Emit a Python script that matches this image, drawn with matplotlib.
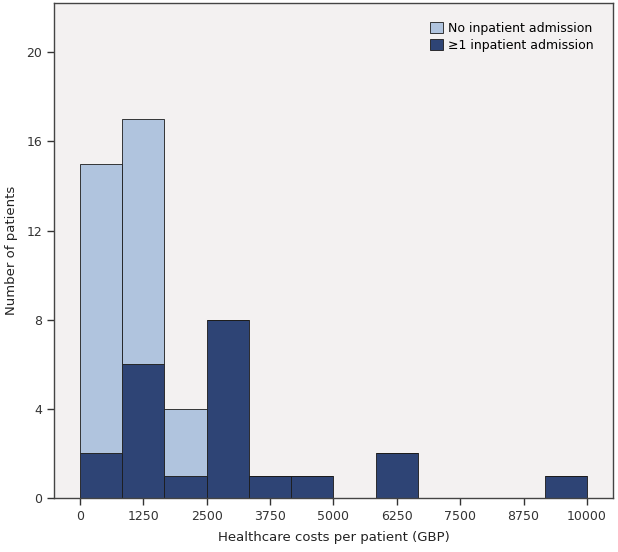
import numpy as np
import matplotlib.pyplot as plt

# histogram counts, 12 bins from 0 to 10000 GBP
bin_edges = np.linspace(0, 10000, 13)
admitted = [2, 6, 1, 8, 1, 1, 0, 2, 0, 0, 0, 1]
not_admitted = [13, 11, 3, 0, 0, 0, 0, 0, 0, 0, 0, 0]
xticks = [0, 1250, 2500, 3750, 5000, 6250, 7500, 8750, 10000]
yticks = [0, 4, 8, 12, 16, 20]

light = '#b0c4de'
dark = '#2e4475'

fig = plt.figure(figsize=(6.18, 5.52), dpi=100)
ax = fig.add_axes([0.087, 0.098, 0.905, 0.896])
ax.set_facecolor('#f3f1f1')

w = np.diff(bin_edges)
left = bin_edges[:-1]
ax.bar(left, admitted, width=w, align='edge', color=dark, edgecolor='#1a1a1a',
       linewidth=0.6, label='≥1 inpatient admission')
ax.bar(left, not_admitted, width=w, bottom=admitted, align='edge', color=light,
       edgecolor='#1a1a1a', linewidth=0.6, label='No inpatient admission')

ax.set_xlim(-515, 10515)
ax.set_ylim(0, 22.2)
ax.set_xticks(xticks)
ax.set_yticks(yticks)
ax.tick_params(direction='out', length=5, width=1, labelsize=9, colors='#333333')
for s in ax.spines.values():
    s.set_color('#444444')
    s.set_linewidth(1)

ax.set_xlabel('Healthcare costs per patient (GBP)', fontsize=9.5, color='#222222', labelpad=6)
ax.set_ylabel('Number of patients', fontsize=9.5, color='#222222', labelpad=6)

h, l = ax.get_legend_handles_labels()
ax.legend(h[::-1], l[::-1], loc='upper right', bbox_to_anchor=(0.985, 0.985), frameon=False,
          fontsize=9, handlelength=1.0, handleheight=1.0, handletextpad=0.4, labelspacing=0.3)

fig.savefig('out.png', dpi=100)
